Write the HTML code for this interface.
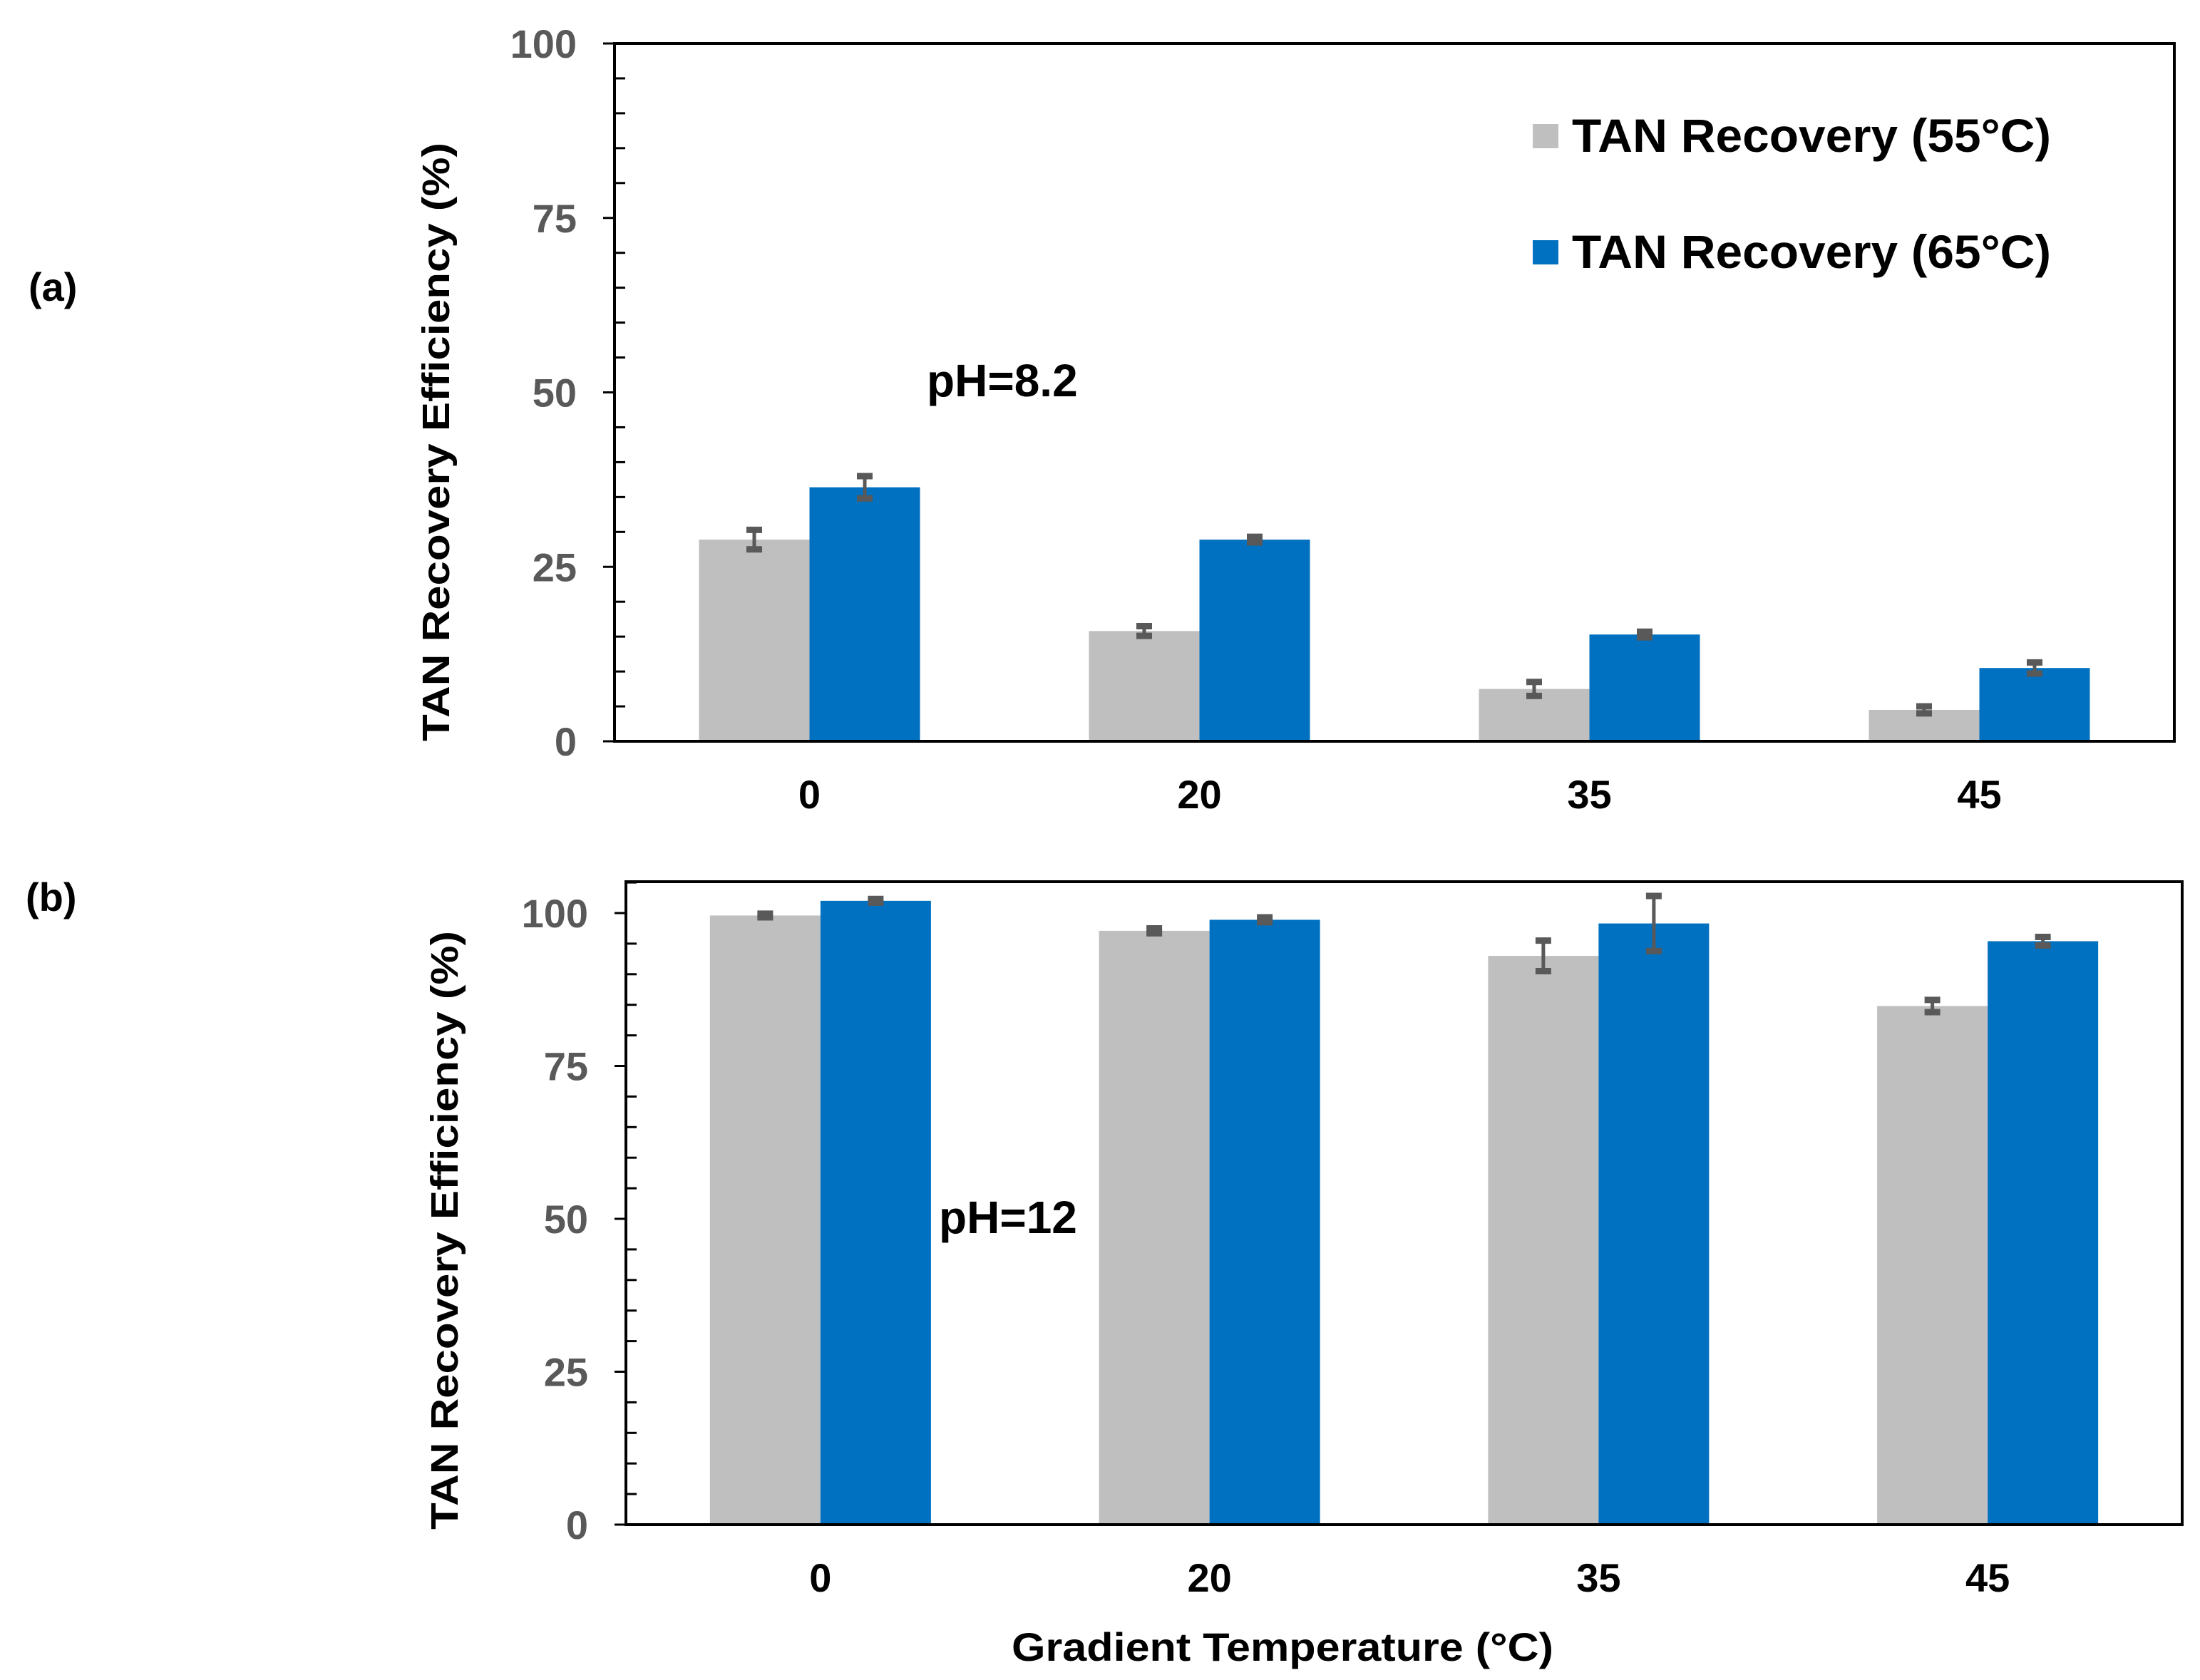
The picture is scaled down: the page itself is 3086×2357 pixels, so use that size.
<!DOCTYPE html>
<html><head><meta charset="utf-8"><style>
html,body{margin:0;padding:0;background:#fff;}
svg{display:block;font-family:"Liberation Sans",Arial,sans-serif;font-weight:bold;}
</style></head><body>
<svg id="fig" width="3086" height="2357" viewBox="0 0 3086 2357" xmlns="http://www.w3.org/2000/svg">
<rect width="3086" height="2357" fill="#fff"/>
<g id="chartA"></g>
<g id="chartB"></g>
</svg>
<script>
const categories = ["0", "20", "35", "45"];
const seriesNames = ["TAN Recovery (55°C)", "TAN Recovery (65°C)"];
const a55 = [28.9, 15.8, 7.5, 4.5];
const a65 = [36.4, 28.9, 15.3, 10.5];
const a55err = [1.4, 0.7, 1.0, 0.5];
const a65err = [1.6, 0.4, 0.4, 0.8];
const b55 = [99.6, 97.1, 93.0, 84.8];
const b65 = [102.0, 98.9, 98.3, 95.4];
const b55err = [0.3, 0.4, 2.5, 1.0];
const b65err = [0.3, 0.4, 4.5, 0.7];
const yTicks = [0, 25, 50, 75, 100];
const colors = ["#bfbfbf", "#0070c0"];
const NS = "http://www.w3.org/2000/svg";

function mk(parent, tag, attrs, text) {
  const e = document.createElementNS(NS, tag);
  for (const k in attrs) e.setAttribute(k, attrs[k]);
  if (text !== undefined) e.textContent = text;
  parent.appendChild(e);
  return e;
}

function drawChart(g, cfg) {
  const L = cfg.left, R = cfg.right, T = cfg.top, B = cfg.y0;
  const ppu = cfg.ppu;
  const yScale = v => B - v * ppu;
  const band = (R - L) / categories.length;
  const xCenter = i => L + band * (i + 0.5);
  const bw = 155;
  for (let v = 5; v <= cfg.maxV; v += 5) {
    if (v % 25 === 0) continue;
    const t = mk(g, "line", {x1: L, x2: L + 15, y1: yScale(v), y2: yScale(v), stroke: "#000", "stroke-width": 3});
    
    
  }
  yTicks.forEach(v => {
    const t = mk(g, "line", {x1: L - 16, x2: L, y1: yScale(v), y2: yScale(v), stroke: "#000", "stroke-width": 3});
    
    
    const lb = mk(g, "text", {x: cfg.left - 53, y: yScale(v) + 20, "text-anchor": "end", "font-size": 56, fill: "#595959"}, String(v));
    
    
  });
  categories.forEach((c, i) => {
    const cx = xCenter(i);
    [cfg.s55, cfg.s65].forEach((arr, s) => {
      const x = s === 0 ? cx - bw : cx;
      const r = mk(g, "rect", {x: x, y: yScale(arr[i]), width: bw, height: B - yScale(arr[i]), fill: colors[s]});
      
      
      const err = (s === 0 ? cfg.e55 : cfg.e65)[i];
      const ex = x + bw / 2;
      const eg = mk(g, "g", {});
      
      
      mk(eg, "line", {x1: ex, x2: ex, y1: yScale(arr[i] + err), y2: yScale(arr[i] - err), stroke: "#595959", "stroke-width": 5});
      mk(eg, "line", {x1: ex - 11, x2: ex + 11, y1: yScale(arr[i] + err), y2: yScale(arr[i] + err), stroke: "#595959", "stroke-width": 9});
      mk(eg, "line", {x1: ex - 11, x2: ex + 11, y1: yScale(arr[i] - err), y2: yScale(arr[i] - err), stroke: "#595959", "stroke-width": 9});
    });
    const xl = mk(g, "text", {x: cx, y: cfg.xLabelY, "text-anchor": "middle", "font-size": 56, fill: "#000"}, c);
    
    
  });
  const frame = mk(g, "rect", {x: L, y: T, width: R - L, height: B - T, fill: "none", stroke: "#000", "stroke-width": 4});
  
  
  const yt = mk(g, "text", {x: 0, y: 0, transform: "translate(" + cfg.titleX + "," + cfg.titleY + ") rotate(-90)", "text-anchor": "middle", "font-size": 54, fill: "#000", textLength: 840, lengthAdjust: "spacingAndGlyphs"}, "TAN Recovery Efficiency  (%)");
  
  
  const ph = mk(g, "text", {x: cfg.phX, y: cfg.phY, "font-size": 64, fill: "#000"}, cfg.phText);
  
  
  const pl = mk(g, "text", {x: cfg.panelX, y: cfg.panelY, "font-size": 56, fill: "#000"}, cfg.panel);
  
  
}

drawChart(document.getElementById("chartA"), {
  left: 862, right: 3050, top: 61, y0: 1040, ppu: 9.79, maxV: 100,
  s55: a55, s65: a65, e55: a55err, e65: a65err, xLabelY: 1134,
  titleX: 630, titleY: 620, phX: 1300, phY: 556, phText: "pH=8.2",
  panel: "(a)", panelX: 40, panelY: 422
});
drawChart(document.getElementById("chartB"), {
  left: 878, right: 3061, top: 1237, y0: 2139, ppu: 8.58, maxV: 105,
  s55: b55, s65: b65, e55: b55err, e65: b65err, xLabelY: 2233,
  titleX: 642, titleY: 1726, phX: 1317, phY: 1730, phText: "pH=12",
  panel: "(b)", panelX: 36, panelY: 1278
});

const fig = document.getElementById("fig");
const lg = mk(fig, "g", {});


[[174, 213], [337, 376]].forEach((p, s) => {
  const sq = mk(lg, "rect", {x: 2150, y: p[0], width: 36, height: 34, fill: colors[s]});
  
  
  const t = mk(lg, "text", {x: 2205, y: p[1], "font-size": 66, fill: "#000", textLength: 672, lengthAdjust: "spacingAndGlyphs"}, seriesNames[s]);
  
  
});
const xt = mk(fig, "text", {x: 1799, y: 2330, "text-anchor": "middle", "font-size": 56, fill: "#000", textLength: 760, lengthAdjust: "spacingAndGlyphs"}, "Gradient Temperature (°C)");


</script>
</body></html>
